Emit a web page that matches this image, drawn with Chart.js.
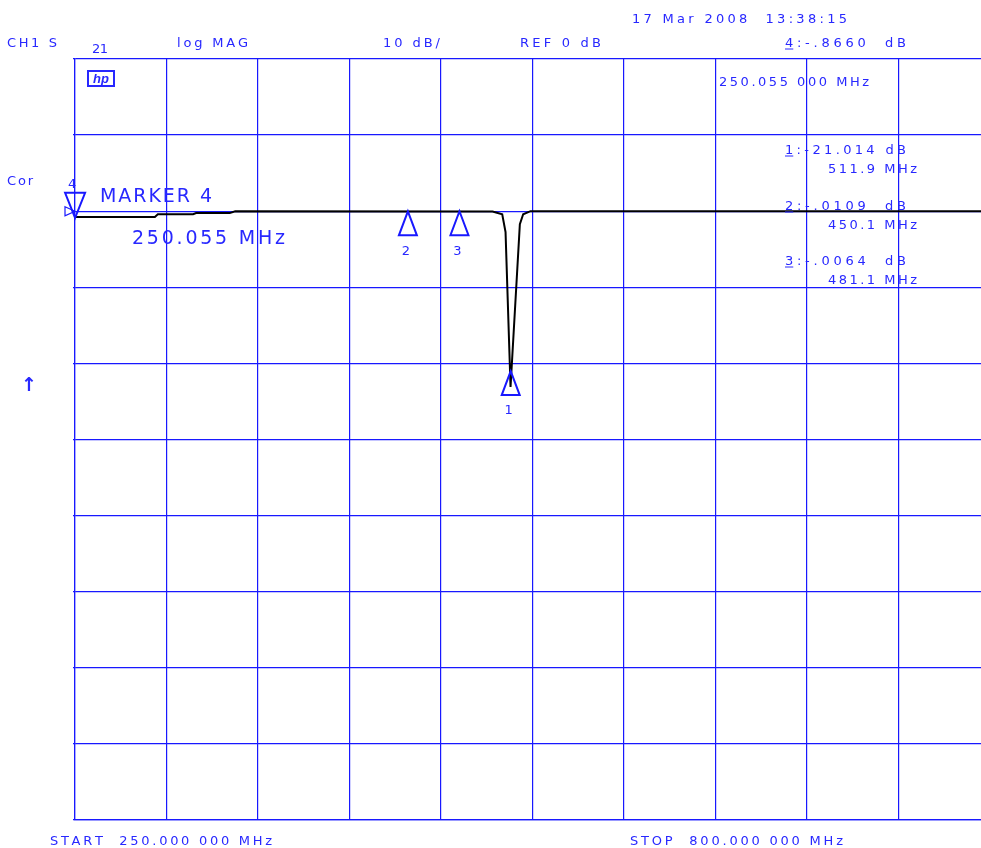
<!DOCTYPE html>
<html>
<head>
<meta charset="utf-8">
<script src="https://cdn.jsdelivr.net/npm/chart.js@4.4.1/dist/chart.umd.min.js"></script>
<style>
    html, body { margin: 0; padding: 0; background: #fff; overflow: hidden; }
    canvas { display: block; }
</style>
</head>
<body>
<canvas id="s21Chart" width="991" height="848"></canvas>
<script>
// ===================================
// HP network analyzer plot - CH1 S21 log MAG
// ===================================

// Sweep points (MHz) and measured magnitude (dB)
const traceFreq = [250, 298, 299.8, 321, 322.8, 343, 346.3, 501, 506.8, 508.8, 511.8, 517.4, 519.4, 523.8, 800];
const traceDb   = [-0.75, -0.75, -0.4, -0.4, -0.25, -0.25, 0, -0.05, -0.4, -2.75, -23.1, -1.7, -0.4, 0, 0];

// Graticule: 10 divisions each way
const freqTicks = [250, 305, 360, 415, 470, 525, 580, 635, 690, 745, 800];
const dbTicks   = [20, 10, 0, -10, -20, -30, -40, -50, -60, -70, -80];

// Markers
const markerIds      = ['1', '2', '3', '4'];
const markerFreq     = [511.9, 450.1, 481.1, 250.055];
const markerDb       = [-21.014, -0.0109, -0.0064, -0.866];
const markerReadDb   = ['-21.014 dB', '-.0109  dB', '-.0064  dB', '-.8660  dB'];
const markerReadFreq = ['511.9 MHz', '450.1 MHz', '481.1 MHz', '250.055 000 MHz'];
const activeMarker   = '4';

const BLUE = 'rgb(24, 24, 255)';
const TEXT_BLUE = 'rgb(40, 40, 255)';
const FONT = '"DejaVu Sans", "Liberation Sans", sans-serif';
const TEXT_DY = 2; // DejaVu 'middle' sits a bit high

// draw text spread out to a given width (plotter style spacing)
function spaced(ctx, text, x, y, width, size) {
    ctx.font = size + 'px ' + FONT;
    const chars = [...text];
    const widths = chars.map(c => ctx.measureText(c).width);
    const total = widths.reduce((a, b) => a + b, 0);
    const gap = chars.length > 1 ? (width - total) / (chars.length - 1) : 0;
    let cx = x;
    chars.forEach((c, i) => {
        ctx.fillText(c, cx, y + TEXT_DY);
        cx += widths[i] + gap;
    });
    return widths[0];
}

// Markers, readouts and annotation text
const hpOverlay = {
    id: 'hpOverlay',
    afterDatasetsDraw(chart) {
        const ctx = chart.ctx;
        const xs = chart.scales.x;
        const ys = chart.scales.y;
        ctx.save();
        ctx.strokeStyle = BLUE;
        ctx.fillStyle = TEXT_BLUE;
        ctx.lineWidth = 2;
        ctx.textBaseline = 'middle';
        ctx.textAlign = 'center';
        ctx.font = '13px ' + FONT;

        markerFreq.forEach((f, i) => {
            const px = xs.getPixelForValue(f);
            const py = ys.getPixelForValue(markerDb[i]);
            ctx.beginPath();
            if (markerIds[i] === activeMarker) {
                ctx.moveTo(px, py);
                ctx.lineTo(px - 10, py - 25);
                ctx.lineTo(px + 10, py - 25);
                ctx.closePath();
                ctx.stroke();
                ctx.fillText(markerIds[i], px - 3, py - 35 + TEXT_DY);
            } else {
                ctx.moveTo(px, py);
                ctx.lineTo(px - 9, py + 24);
                ctx.lineTo(px + 9, py + 24);
                ctx.closePath();
                ctx.stroke();
                ctx.fillText(markerIds[i], px - 2, py + 38 + TEXT_DY);
            }
        });

        // reference position indicator
        const ry = ys.getPixelForValue(0);
        const rx = chart.chartArea.left;
        ctx.lineWidth = 1.2;
        ctx.beginPath();
        ctx.moveTo(rx - 10, ry - 4.5);
        ctx.lineTo(rx, ry);
        ctx.lineTo(rx - 10, ry + 4.5);
        ctx.closePath();
        ctx.stroke();
        ctx.restore();
    },
    afterDraw(chart) {
        const ctx = chart.ctx;
        ctx.save();
        ctx.fillStyle = TEXT_BLUE;
        ctx.strokeStyle = TEXT_BLUE;
        ctx.textBaseline = 'middle';
        ctx.textAlign = 'left';

        spaced(ctx, '17 Mar 2008  13:38:15', 632, 18, 215, 13);
        spaced(ctx, 'CH1 S', 7, 42, 50, 13);
        spaced(ctx, '21', 92, 48, 16, 13);
        spaced(ctx, 'log MAG', 177, 42, 71, 13);
        spaced(ctx, '10 dB/', 383, 42, 57, 13);
        spaced(ctx, 'REF 0 dB', 520, 42, 81, 13);
        spaced(ctx, 'Cor', 7, 180, 26, 13);

        // marker readouts (active first, then the others)
        const rows = [[3, 42], [0, 149], [1, 205], [2, 260]];
        rows.forEach(([i, y]) => {
            const w0 = spaced(ctx, markerIds[i] + ':' + markerReadDb[i], 785, y, 121, 13);
            ctx.lineWidth = 1;
            ctx.beginPath();
            ctx.moveTo(785, y + 7);
            ctx.lineTo(785 + w0, y + 7);
            ctx.stroke();
            if (i === 3) {
                spaced(ctx, markerReadFreq[i], 719, 81, 150, 13);
            } else {
                spaced(ctx, markerReadFreq[i], 828, y + 19, 89, 13);
            }
        });

        // active marker annotation
        spaced(ctx, 'MARKER ' + activeMarker, 100, 195, 112, 19);
        spaced(ctx, '250.055 MHz', 132, 237, 153, 19);

        spaced(ctx, 'START  250.000 000 MHz', 50, 840, 222, 13);
        spaced(ctx, 'STOP  800.000 000 MHz', 630, 840, 213, 13);

        // scale arrow
        ctx.textAlign = 'center';
        ctx.font = 'bold 19px "DejaVu Sans", sans-serif';
        ctx.fillText('\u2191', 29, 386);

        // hp logo
        ctx.lineWidth = 2;
        ctx.strokeRect(88, 71, 26, 15);
        ctx.font = 'italic bold 13px "Liberation Sans", sans-serif';
        ctx.fillText('hp', 101, 79);
        ctx.restore();
    }
};

function initS21Chart() {
    const ctx = document.getElementById('s21Chart');
    const points = traceFreq.map((f, i) => ({ x: f, y: traceDb[i] }));

    new Chart(ctx, {
        type: 'line',
        data: {
            datasets: [{
                label: 'S21',
                data: points,
                borderColor: '#000000',
                borderWidth: 2,
                pointRadius: 0,
                tension: 0,
                fill: false
            }]
        },
        options: {
            responsive: false,
            animation: false,
            events: [],
            layout: {
                padding: { left: 73, top: 59, right: 1, bottom: 28 }
            },
            plugins: {
                legend: { display: false },
                tooltip: { enabled: false },
                title: { display: false }
            },
            scales: {
                x: {
                    type: 'linear',
                    min: freqTicks[0],
                    max: freqTicks[freqTicks.length - 1],
                    afterBuildTicks: axis => {
                        axis.ticks = freqTicks.map(v => ({ value: v }));
                    },
                    ticks: { display: false },
                    grid: { color: BLUE, lineWidth: 1.2, drawTicks: false },
                    border: { color: BLUE, width: 1.2 }
                },
                y: {
                    type: 'linear',
                    min: dbTicks[dbTicks.length - 1],
                    max: dbTicks[0],
                    afterBuildTicks: axis => {
                        axis.ticks = dbTicks.map(v => ({ value: v }));
                    },
                    ticks: { display: false },
                    grid: { color: BLUE, lineWidth: 1.2, drawTicks: true, tickLength: 2 },
                    border: { color: BLUE, width: 1.2 }
                }
            }
        },
        plugins: [hpOverlay]
    });
}

document.addEventListener('DOMContentLoaded', initS21Chart);
</script>
</body>
</html>
